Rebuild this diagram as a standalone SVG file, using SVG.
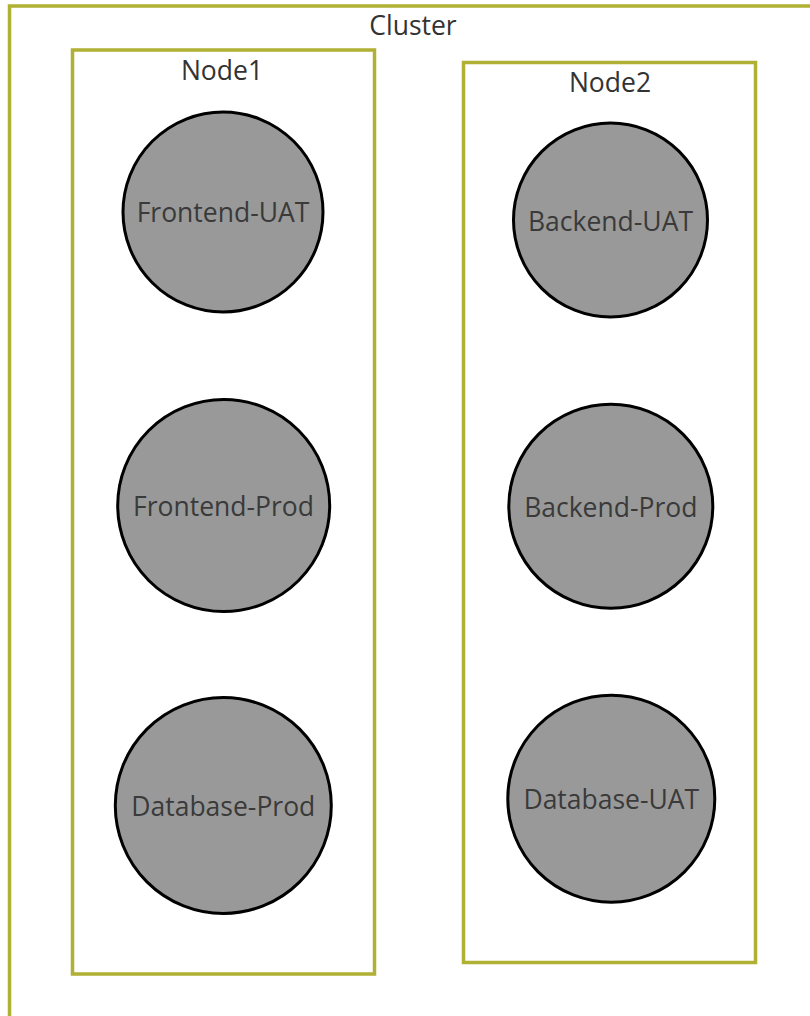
<svg xmlns="http://www.w3.org/2000/svg" width="810" height="1016" viewBox="0 0 810 1016">
<style>
.box{fill:#fff;stroke:#b0b034;stroke-width:3.5}
.cluster{fill:none;stroke:#b0b034;stroke-width:3.5}
.lbl{font-family:"Open Sans","Noto Sans",sans-serif;font-size:26.5px;fill:#333;text-anchor:middle}
.node circle{fill:#999;stroke:#000;stroke-width:3}
.node text{font-family:"Open Sans","Noto Sans",sans-serif;font-size:26.5px;fill:#3a3a3a;text-anchor:middle}
</style>
<rect width="810" height="1016" fill="#fff"/>
<g id="cluster">
<rect class="cluster" x="9.5" y="6" width="810" height="1030"/>
<text class="lbl" x="413" y="35">Cluster</text>
</g>
<g id="node1">
<rect class="box" x="72.5" y="50" width="302" height="924"/>
<text class="lbl" x="222" y="80">Node1</text>
</g>
<g id="node2">
<rect class="box" x="463.5" y="62.5" width="292" height="900"/>
<text class="lbl" x="610" y="92">Node2</text>
</g>
<g id="connectors"></g>
<g id="frontend-uat" class="node"><circle cx="223" cy="212" r="100"/><text x="223" y="222">Frontend-UAT</text></g>
<g id="frontend-prod" class="node"><circle cx="223.7" cy="505.5" r="106"/><text x="223.5" y="516">Frontend-Prod</text></g>
<g id="database-prod" class="node"><circle cx="223.3" cy="805.5" r="108"/><text x="223.3" y="816">Database-Prod</text></g>
<g id="backend-uat" class="node"><circle cx="610.5" cy="220" r="97"/><text x="610.5" y="230.5">Backend-UAT</text></g>
<g id="backend-prod" class="node"><circle cx="610.8" cy="506.3" r="102"/><text x="610.8" y="516.5">Backend-Prod</text></g>
<g id="database-uat" class="node"><circle cx="611.3" cy="798.7" r="103.5"/><text x="611.3" y="809">Database-UAT</text></g>
</svg>
